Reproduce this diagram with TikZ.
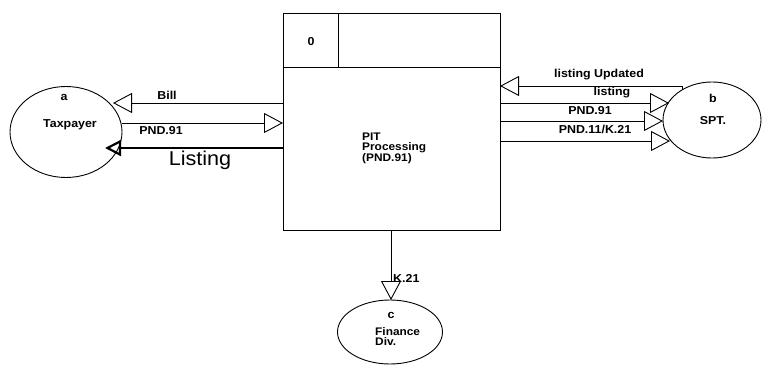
\documentclass[tikz,border=0pt]{standalone}
\usepackage{fontspec}
\setmainfont{Liberation Sans}[FakeStretch=1.08]
\usetikzlibrary{arrows.meta,shapes.geometric}
\begin{document}
\begin{tikzpicture}[x=1pt,y=-1pt,
  lab/.style={font=\fontsize{11.5}{11.5}\selectfont\bfseries, inner sep=0pt},
  biglab/.style={font=\fontsize{20}{20}\selectfont, inner sep=0pt},
  flow/.style={line width=0.9pt, -{Triangle[open,length=19pt,width=20pt,line width=0.9pt]}},
  thickflow/.style={line width=2.4pt, -{Triangle[open,length=16pt,width=16pt,line width=2.2pt]}},
  ent/.style={ellipse, draw, line width=0.9pt, inner sep=0pt},
  proc/.style={draw, line width=0.9pt, inner sep=0pt, anchor=north west}]
\useasboundingbox (0,0) rectangle (766,369);

% process box
\node[proc, minimum width=217pt, minimum height=217pt] (p) at (283,13) {};
\coordinate (hl) at (283,67);
\coordinate (hr) at (500,67);
\coordinate (dt) at (338,13);
\coordinate (db) at (338,67);
\draw[line width=0.9pt] (hl) -- (hr);
\draw[line width=0.9pt] (dt) -- (db);
\node[lab] (pnum) at (311,42) {0};
\node[lab, align=left, anchor=north west, font=\fontsize{11}{9.6}\selectfont\bfseries] (ptxt) at (362,133) {PIT\\Processing\\(PND.91)};

% entities
\node[ent, minimum width=112pt, minimum height=91pt] (a) at (66,132) {};
\node[lab] (aid) at (64,97) {a};
\node[lab] (aname) at (70,125) {Taxpayer};

\node[ent, minimum width=98pt, minimum height=76pt] (b) at (712,120) {};
\node[lab] (bid) at (713,98) {b};
\node[lab] (bname) at (713,121) {SPT.};

\node[ent, minimum width=105pt, minimum height=64pt] (c) at (390,332) {};
\node[lab] (cid) at (391,315) {c};
\node[lab, align=left, anchor=north west, font=\fontsize{11}{10}\selectfont\bfseries] (cname) at (375,327) {Finance\\Div.};

% left flows
\coordinate (billS) at (283,103);
\coordinate (billT) at (113,103);
\coordinate (pndS) at (122,123);
\coordinate (pndT) at (283,123);
\coordinate (lstS) at (283,148);
\coordinate (lstT) at (105,148);
\draw[flow] (billS) -- (billT);
\draw[flow] (pndS) -- (pndT);
\draw[thickflow] (lstS) -- (lstT);
\node[lab] (lbill) at (167,95) {Bill};
\node[lab] (lpnd) at (161,131) {PND.91};
\node[biglab] (llst) at (200,160) {Listing};

% right flows
\coordinate (updS) at (682,90);
\coordinate (updM) at (682,86);
\coordinate (updT) at (500,86);
\draw[flow] (updS) -- (updM) -- (updT);
\coordinate (r1S) at (500,103);
\coordinate (r1T) at (669,103);
\coordinate (r2S) at (500,121);
\coordinate (r2T) at (663,121);
\coordinate (r3S) at (500,141);
\coordinate (r3T) at (670,141);
\draw[flow] (r1S) -- (r1T);
\draw[flow] (r2S) -- (r2T);
\draw[flow] (r3S) -- (r3T);
\node[lab] (lupd) at (599,74.5) {listing Updated};
\node[lab] (llst2) at (612,93) {listing};
\node[lab] (lpnd2) at (590,111) {PND.91};
\node[lab] (lpnd11) at (595,129) {PND.11/K.21};

% bottom flow
\coordinate (kS) at (391,230);
\coordinate (kT) at (391,300);
\draw[flow] (kS) -- (kT);
\node[lab, anchor=west] (lk) at (393,278) {K.21};
\end{tikzpicture}
\end{document}
